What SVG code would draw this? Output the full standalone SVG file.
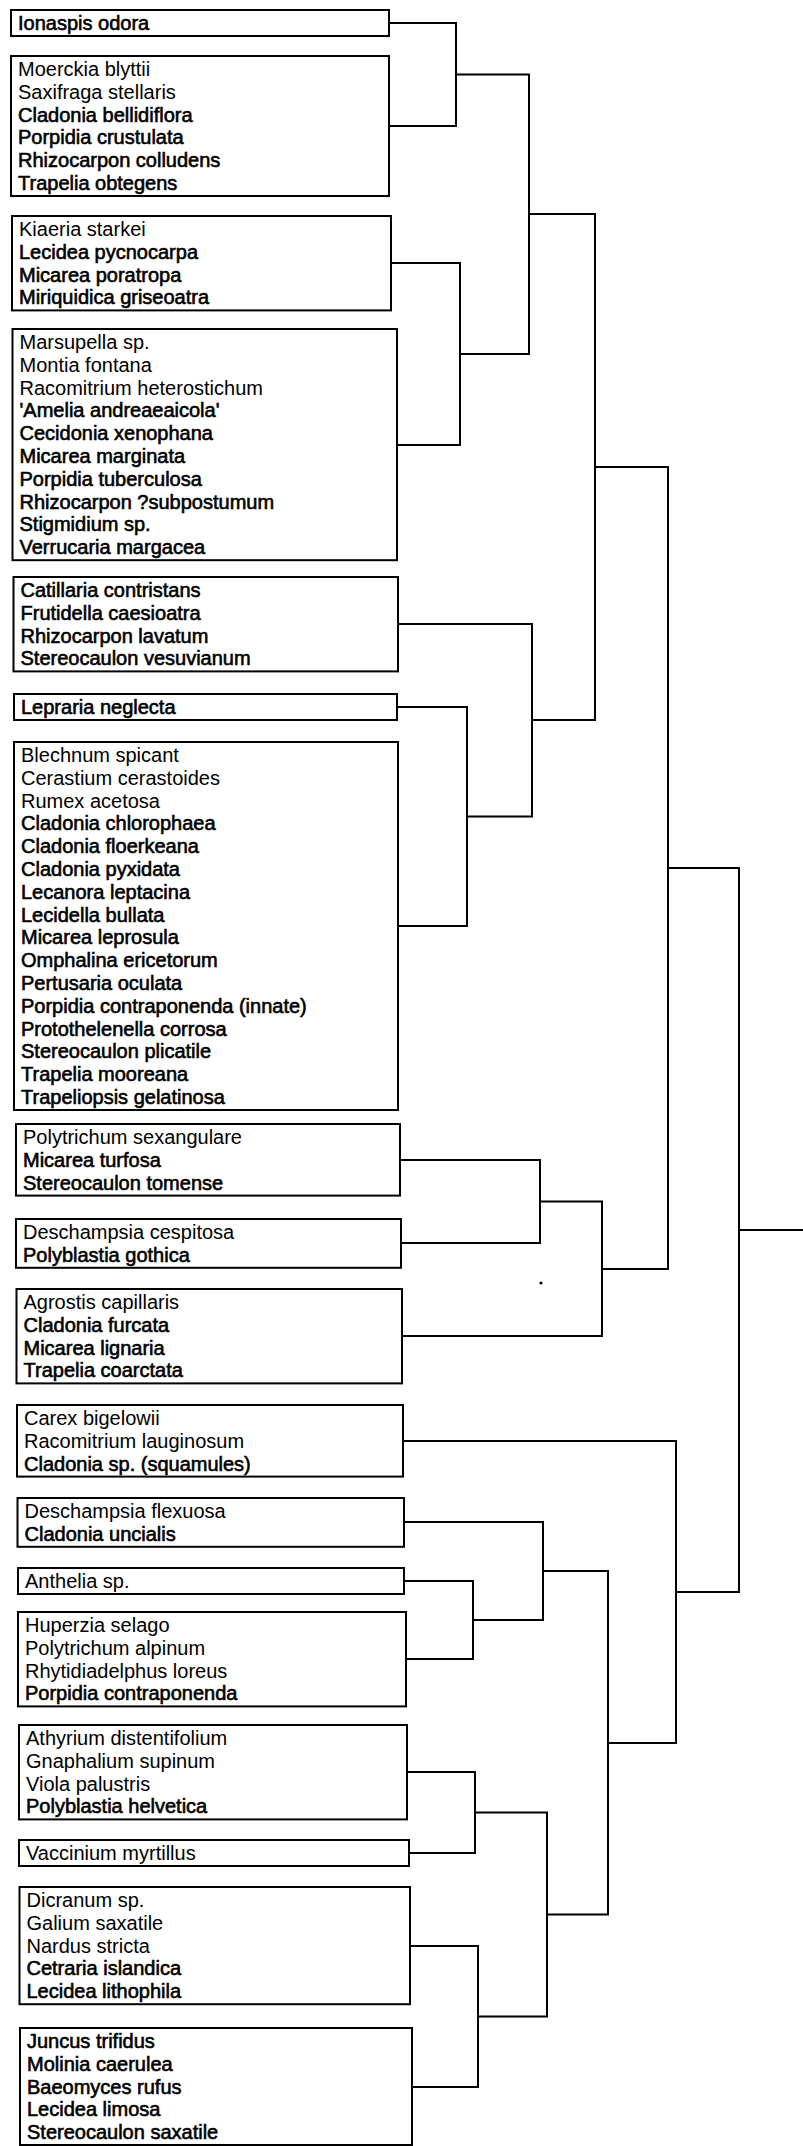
<svg xmlns="http://www.w3.org/2000/svg" width="803" height="2146" viewBox="0 0 803 2146">
<style>
.box{fill:none;stroke:#000;stroke-width:2}
.t{font-family:"Liberation Sans",Arial,sans-serif;font-size:20px;fill:#000}
.b{stroke:#000;stroke-width:0.6}
.c{fill:none;stroke:#000;stroke-width:2;stroke-linecap:square}
</style>
<rect width="803" height="2146" fill="#fff"/>
<g id="n1"><rect class="box" x="11" y="10" width="378" height="26"/><text class="t"><tspan class="b" x="18" y="30">Ionaspis odora</tspan></text></g>
<g id="n2"><rect class="box" x="11" y="56" width="378" height="140"/><text class="t"><tspan x="18" y="76">Moerckia blyttii</tspan><tspan x="18" y="98.8">Saxifraga stellaris</tspan><tspan class="b" x="18" y="121.6">Cladonia bellidiflora</tspan><tspan class="b" x="18" y="144.4">Porpidia crustulata</tspan><tspan class="b" x="18" y="167.2">Rhizocarpon colludens</tspan><tspan class="b" x="18" y="190">Trapelia obtegens</tspan></text></g>
<g id="n3"><rect class="box" x="12" y="216" width="379" height="94.4"/><text class="t"><tspan x="19" y="236">Kiaeria starkei</tspan><tspan class="b" x="19" y="258.8">Lecidea pycnocarpa</tspan><tspan class="b" x="19" y="281.6">Micarea poratropa</tspan><tspan class="b" x="19" y="304.4">Miriquidica griseoatra</tspan></text></g>
<g id="n4"><rect class="box" x="12.5" y="329" width="384.5" height="231.2"/><text class="t"><tspan x="19.5" y="349">Marsupella sp.</tspan><tspan x="19.5" y="371.8">Montia fontana</tspan><tspan x="19.5" y="394.6">Racomitrium heterostichum</tspan><tspan class="b" x="19.5" y="417.4">'Amelia andreaeaicola'</tspan><tspan class="b" x="19.5" y="440.2">Cecidonia xenophana</tspan><tspan class="b" x="19.5" y="463">Micarea marginata</tspan><tspan class="b" x="19.5" y="485.8">Porpidia tuberculosa</tspan><tspan class="b" x="19.5" y="508.6">Rhizocarpon ?subpostumum</tspan><tspan class="b" x="19.5" y="531.4">Stigmidium sp.</tspan><tspan class="b" x="19.5" y="554.2">Verrucaria margacea</tspan></text></g>
<g id="n5"><rect class="box" x="13.5" y="577" width="384.5" height="94.4"/><text class="t"><tspan class="b" x="20.5" y="597">Catillaria contristans</tspan><tspan class="b" x="20.5" y="619.8">Frutidella caesioatra</tspan><tspan class="b" x="20.5" y="642.6">Rhizocarpon lavatum</tspan><tspan class="b" x="20.5" y="665.4">Stereocaulon vesuvianum</tspan></text></g>
<g id="n6"><rect class="box" x="14" y="694" width="383" height="26"/><text class="t"><tspan class="b" x="21" y="714">Lepraria neglecta</tspan></text></g>
<g id="n7"><rect class="box" x="14" y="742" width="384" height="368"/><text class="t"><tspan x="21" y="762">Blechnum spicant</tspan><tspan x="21" y="784.8">Cerastium cerastoides</tspan><tspan x="21" y="807.6">Rumex acetosa</tspan><tspan class="b" x="21" y="830.4">Cladonia chlorophaea</tspan><tspan class="b" x="21" y="853.2">Cladonia floerkeana</tspan><tspan class="b" x="21" y="876">Cladonia pyxidata</tspan><tspan class="b" x="21" y="898.8">Lecanora leptacina</tspan><tspan class="b" x="21" y="921.6">Lecidella bullata</tspan><tspan class="b" x="21" y="944.4">Micarea leprosula</tspan><tspan class="b" x="21" y="967.2">Omphalina ericetorum</tspan><tspan class="b" x="21" y="990">Pertusaria oculata</tspan><tspan class="b" x="21" y="1012.8">Porpidia contraponenda (innate)</tspan><tspan class="b" x="21" y="1035.6">Protothelenella corrosa</tspan><tspan class="b" x="21" y="1058.4">Stereocaulon plicatile</tspan><tspan class="b" x="21" y="1081.2">Trapelia mooreana</tspan><tspan class="b" x="21" y="1104">Trapeliopsis gelatinosa</tspan></text></g>
<g id="n8"><rect class="box" x="16" y="1124" width="384" height="71.6"/><text class="t"><tspan x="23" y="1144">Polytrichum sexangulare</tspan><tspan class="b" x="23" y="1166.8">Micarea turfosa</tspan><tspan class="b" x="23" y="1189.6">Stereocaulon tomense</tspan></text></g>
<g id="n9"><rect class="box" x="16" y="1219" width="385" height="48.8"/><text class="t"><tspan x="23" y="1239">Deschampsia cespitosa</tspan><tspan class="b" x="23" y="1261.8">Polyblastia gothica</tspan></text></g>
<g id="n10"><rect class="box" x="16.5" y="1289" width="385.5" height="94.4"/><text class="t"><tspan x="23.5" y="1309">Agrostis capillaris</tspan><tspan class="b" x="23.5" y="1331.8">Cladonia furcata</tspan><tspan class="b" x="23.5" y="1354.6">Micarea lignaria</tspan><tspan class="b" x="23.5" y="1377.4">Trapelia coarctata</tspan></text></g>
<g id="n11"><rect class="box" x="17" y="1405" width="386" height="71.6"/><text class="t"><tspan x="24" y="1425">Carex bigelowii</tspan><tspan x="24" y="1447.8">Racomitrium lauginosum</tspan><tspan class="b" x="24" y="1470.6">Cladonia sp. (squamules)</tspan></text></g>
<g id="n12"><rect class="box" x="17.5" y="1498" width="386.5" height="48.8"/><text class="t"><tspan x="24.5" y="1518">Deschampsia flexuosa</tspan><tspan class="b" x="24.5" y="1540.8">Cladonia uncialis</tspan></text></g>
<g id="n13"><rect class="box" x="18" y="1568" width="386" height="26"/><text class="t"><tspan x="25" y="1588">Anthelia sp.</tspan></text></g>
<g id="n14"><rect class="box" x="18" y="1612" width="388" height="94.4"/><text class="t"><tspan x="25" y="1632">Huperzia selago</tspan><tspan x="25" y="1654.8">Polytrichum alpinum</tspan><tspan x="25" y="1677.6">Rhytidiadelphus loreus</tspan><tspan class="b" x="25" y="1700.4">Porpidia contraponenda</tspan></text></g>
<g id="n15"><rect class="box" x="19" y="1725" width="388" height="94.4"/><text class="t"><tspan x="26" y="1745">Athyrium distentifolium</tspan><tspan x="26" y="1767.8">Gnaphalium supinum</tspan><tspan x="26" y="1790.6">Viola palustris</tspan><tspan class="b" x="26" y="1813.4">Polyblastia helvetica</tspan></text></g>
<g id="n16"><rect class="box" x="19" y="1840" width="390" height="26"/><text class="t"><tspan x="26" y="1860">Vaccinium myrtillus</tspan></text></g>
<g id="n17"><rect class="box" x="19.5" y="1887" width="390.5" height="117.2"/><text class="t"><tspan x="26.5" y="1907">Dicranum sp.</tspan><tspan x="26.5" y="1929.8">Galium saxatile</tspan><tspan x="26.5" y="1952.6">Nardus stricta</tspan><tspan class="b" x="26.5" y="1975.4">Cetraria islandica</tspan><tspan class="b" x="26.5" y="1998.2">Lecidea lithophila</tspan></text></g>
<g id="n18"><rect class="box" x="20" y="2028" width="392" height="117"/><text class="t"><tspan class="b" x="27" y="2048">Juncus trifidus</tspan><tspan class="b" x="27" y="2070.8">Molinia caerulea</tspan><tspan class="b" x="27" y="2093.6">Baeomyces rufus</tspan><tspan class="b" x="27" y="2116.4">Lecidea limosa</tspan><tspan class="b" x="27" y="2139.2">Stereocaulon saxatile</tspan></text></g>
<g id="connectors">
<path class="c" d="M389 23H456V126H389"/>
<path class="c" d="M391 263H460V445H397"/>
<path class="c" d="M456 74.5H529V354H460"/>
<path class="c" d="M397 707H467V926H398"/>
<path class="c" d="M398 624H532V816.5H467"/>
<path class="c" d="M529 214H595V720H532"/>
<path class="c" d="M400 1160H540V1243H401"/>
<path class="c" d="M540 1201.5H602V1336H402"/>
<path class="c" d="M595 467H668V1269H602"/>
<path class="c" d="M404 1581H473V1659H406"/>
<path class="c" d="M404 1522H543V1620H473"/>
<path class="c" d="M407 1772H475V1853H409"/>
<path class="c" d="M410 1946H478V2087H412"/>
<path class="c" d="M475 1812.5H547V2016.5H478"/>
<path class="c" d="M543 1571H608V1914.5H547"/>
<path class="c" d="M403 1441H676V1743H608"/>
<path class="c" d="M668 868H739V1592H676"/>
<path class="c" d="M739 1230H803"/>
</g>
<circle cx="541" cy="1283" r="1.6" fill="#000"/>
</svg>
